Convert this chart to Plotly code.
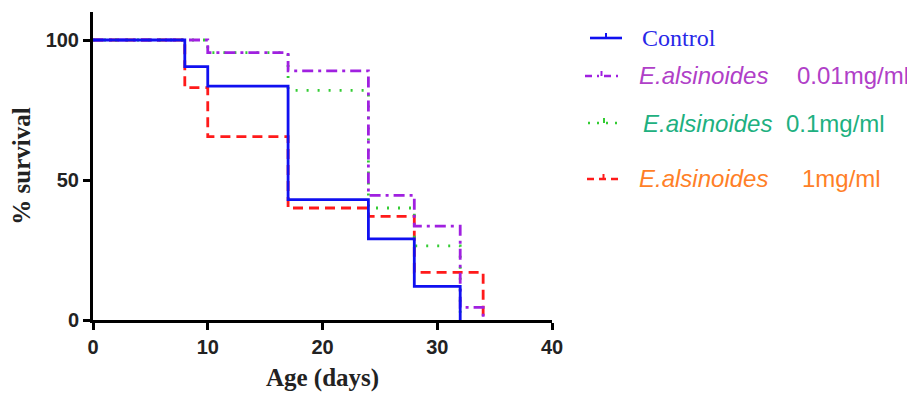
import plotly.graph_objects as go

# ---- data ----
control_days = [0, 8, 10, 17, 24, 28, 32]
control_surv = [100, 90.5, 83.5, 43, 29, 12, 0]

ea001_days = [0, 10, 17, 24, 28, 32, 34]
ea001_surv = [100, 95.5, 89, 44.5, 33.5, 4.5, 0]

ea01_days = [0, 10, 17, 24, 28, 32]
ea01_surv = [100, 95.5, 82, 40, 26.5, 0]

ea1_days = [0, 8, 10, 17, 24, 28, 34]
ea1_surv = [100, 83, 65.5, 40, 37, 17, 0]

x_ticks = [0, 10, 20, 30, 40]
y_ticks = [0, 50, 100]

OFF = 8  # browser body margin
W, H = 915 - OFF, 396 - OFF
L, R, T, B = 93 - OFF, 552 - OFF, 12 - OFF, 320 - OFF  # plot area pixels in figure coords


def px(x):
    return (x - OFF - L) / (R - L)


def py(y):
    return (B - (y - OFF)) / (B - T)


fig = go.Figure()

series = [
    (ea1_days, ea1_surv, "#FF1A1A", "10px,6px"),
    (ea01_days, ea01_surv, "#33CC33", "2px,9px"),
    (ea001_days, ea001_surv, "#A020E0", "11px,5px,3px,5px"),
    (control_days, control_surv, "#1010F0", "solid"),
]
for xs, ys, col, dash in series:
    fig.add_trace(go.Scatter(x=xs, y=ys, mode="lines", line_shape="hv",
                             line=dict(color=col, width=2.8, dash=dash),
                             showlegend=False, hoverinfo="skip"))

tick_font = dict(family="Liberation Sans", size=20, color="#222", weight="bold")
title_font = dict(family="Liberation Serif", size=25, color="#222", weight="bold")

fig.update_layout(
    width=W, height=H,
    margin=dict(l=L, r=W - R, t=T, b=H - B),
    plot_bgcolor="white", paper_bgcolor="white",
    xaxis=dict(range=[0, 40], tickvals=x_ticks, showgrid=False, zeroline=False,
               showline=True, linecolor="black", linewidth=3,
               ticks="outside", ticklen=7, tickwidth=2.5, tickcolor="black",
               tickfont=tick_font,
               title=dict(text="Age (days)", standoff=12, font=title_font)),
    yaxis=dict(range=[0, 110], tickvals=y_ticks, showgrid=False, zeroline=False,
               showline=True, linecolor="black", linewidth=3,
               ticks="outside", ticklen=7, tickwidth=2.5, tickcolor="black",
               tickfont=tick_font,
               title=dict(text="% survival", standoff=14, font=title_font)),
)

# ---- custom legend ----
legend_items = [
    # (y px, line x0, line x1, line colour, dash, [(x px, text, colour, family, italic)])
    (38, 590, 622, "#1010F0", "solid", [(640, "Control", "#2828E8", "Liberation Serif", False)]),
    (76, 585, 618, "#A020E0", "7px,5px,2px,5px", [(637, "E.alsinoides", "#B040C8", "Liberation Sans", True),
                                                  (795, "0.01mg/ml", "#B040C8", "Liberation Sans", False)]),
    (123, 588, 620, "#33CC33", "2px,7px", [(641, "E.alsinoides", "#20B080", "Liberation Sans", True),
                                           (784, "0.1mg/ml", "#20B080", "Liberation Sans", False)]),
    (179, 587, 620, "#FF1A1A", "7px,5px", [(637, "E.alsinoides", "#FF7F27", "Liberation Sans", True),
                                           (800, "1mg/ml", "#FF7F27", "Liberation Sans", False)]),
]
for ypx, lx0, lx1, col, dash, texts in legend_items:
    fig.add_shape(type="line", xref="paper", yref="paper",
                  x0=px(lx0), x1=px(lx1), y0=py(ypx), y1=py(ypx),
                  line=dict(color=col, width=2.6, dash=dash))
    mid = (lx0 + lx1) / 2
    fig.add_shape(type="line", xref="paper", yref="paper",
                  x0=px(mid), x1=px(mid), y0=py(ypx), y1=py(ypx - 5),
                  line=dict(color=col, width=2))
    for xpx, txt, tcol, fam, ital in texts:
        t = f"<i>{txt}</i>" if ital else txt
        fig.add_annotation(xref="paper", yref="paper", x=px(xpx), y=py(ypx),
                           xanchor="left", yanchor="middle", showarrow=False,
                           text=t, font=dict(family=fam, size=24, color=tcol))

fig.write_html("out.html")
